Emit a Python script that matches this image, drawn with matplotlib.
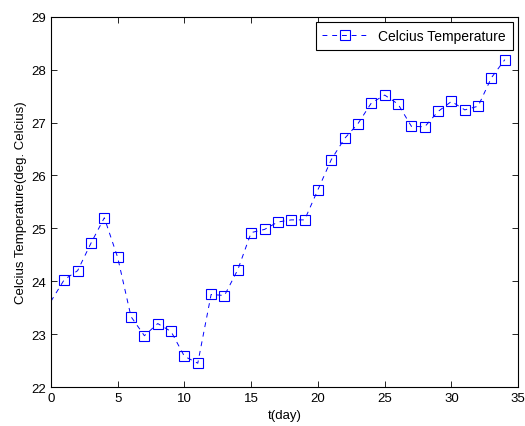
import numpy as np
import matplotlib.pyplot as plt

plt.rcParams['font.family'] = ['Liberation Sans', 'DejaVu Sans']

days = list(range(0, 35))
temps = [23.62, 24.03, 24.2, 24.72, 25.2, 24.45, 23.33, 22.97, 23.2, 23.05,
         22.58, 22.45, 23.75, 23.73, 24.22, 24.92, 24.98, 25.12, 25.16, 25.16,
         25.73, 26.3, 26.7, 26.98, 27.37, 27.52, 27.35, 26.93, 26.92, 27.21,
         27.4, 27.24, 27.31, 27.85, 28.19]

fig = plt.figure(figsize=(5.25, 4.27), dpi=100)
ax = fig.add_axes([0.097, 0.0913, 0.89, 0.867])

ax.plot(days, temps, linestyle='--', dashes=(5, 5), color='blue', linewidth=0.7,
        marker='s', markersize=7.5, markerfacecolor='none', markeredgecolor='blue',
        markeredgewidth=0.8, markevery=list(range(1, len(days))),
        label='Celcius Temperature')

ax.set_xlim(0, 35)
ax.set_ylim(22, 29)
ax.set_xticks(range(0, 36, 5))
ax.set_yticks(range(22, 30))
ax.tick_params(direction='in', top=True, right=True, labelsize=9.5, length=4, width=0.6)
for s in ax.spines.values():
    s.set_linewidth(0.8)

ax.set_xlabel('t(day)', fontsize=9.5, labelpad=4)
ax.set_ylabel('Celcius Temperature(deg. Celcius)', fontsize=9.5, labelpad=3)

leg = ax.legend(loc='upper right', fontsize=10, fancybox=False, edgecolor='black',
                framealpha=1, handlelength=3.2, borderpad=0.5, borderaxespad=0.4)
leg.get_frame().set_linewidth(0.8)

plt.savefig('out.png', dpi=100)
